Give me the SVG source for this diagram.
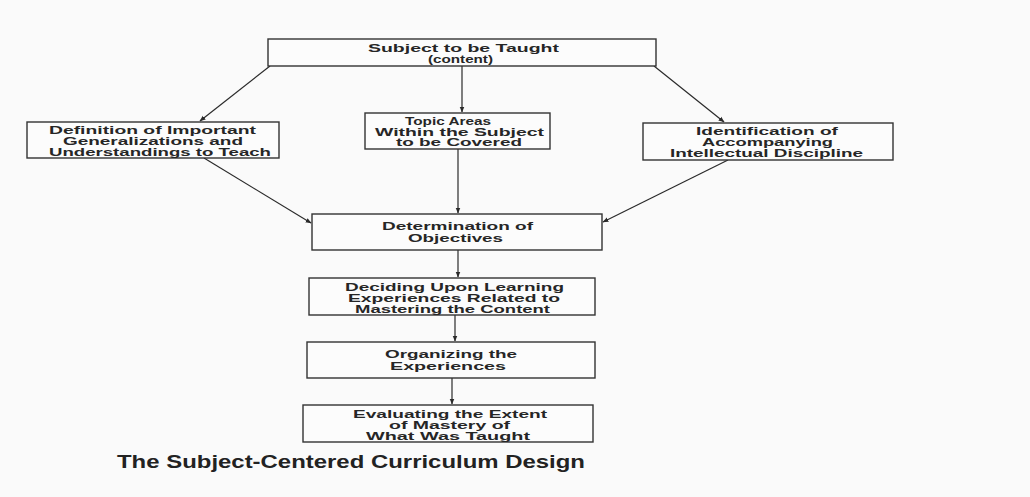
<svg xmlns="http://www.w3.org/2000/svg" width="1030" height="497" viewBox="0 0 1030 497">
<defs>
<marker id="ah" viewBox="0 0 10 10" refX="9" refY="5" markerWidth="6" markerHeight="6" orient="auto" markerUnits="userSpaceOnUse">
<path d="M0,1 L10,5 L0,9 z" fill="#2a2a2a"/>
</marker>
</defs>
<style>
.bx{fill:#fcfcfc;stroke:#333;stroke-width:1.4}
.t{font-family:"Liberation Sans",Arial,sans-serif;font-size:10px;font-weight:bold;fill:#262626}
.c{stroke:#2a2a2a;stroke-width:1.2;fill:none;marker-end:url(#ah)}
.title{font-family:"Liberation Sans",Arial,sans-serif;font-size:18px;font-weight:bold;fill:#222}
</style>
<rect width="1030" height="497" fill="#fafafa"/>
<g id="connectors">
<line class="c" x1="270" y1="66" x2="200" y2="121"/>
<line class="c" x1="462" y1="66" x2="462" y2="112"/>
<line class="c" x1="654" y1="66" x2="724" y2="122"/>
<line class="c" x1="204" y1="158" x2="311" y2="223"/>
<line class="c" x1="458" y1="149" x2="458" y2="213"/>
<line class="c" x1="728" y1="160" x2="603" y2="222"/>
<line class="c" x1="458" y1="250" x2="458" y2="277"/>
<line class="c" x1="455" y1="315" x2="455" y2="341"/>
<line class="c" x1="452" y1="378" x2="452" y2="404"/>
</g>
<g id="n-subject">
<rect class="bx" x="268" y="39" width="388" height="27"/>
<text class="t" x="368" y="52" textLength="191" lengthAdjust="spacingAndGlyphs">Subject to be Taught</text>
<text class="t" x="428" y="63" textLength="65" lengthAdjust="spacingAndGlyphs">(content)</text>
</g>
<g id="n-topic">
<rect class="bx" x="365" y="113" width="185" height="36"/>
<text class="t" x="405" y="125" textLength="86" lengthAdjust="spacingAndGlyphs">Topic Areas</text>
<text class="t" x="375" y="135.5" textLength="169" lengthAdjust="spacingAndGlyphs">Within the Subject</text>
<text class="t" x="396" y="146" textLength="126" lengthAdjust="spacingAndGlyphs">to be Covered</text>
</g>
<g id="n-definition">
<rect class="bx" x="27" y="122" width="252" height="36"/>
<text class="t" x="49" y="133.5" textLength="207" lengthAdjust="spacingAndGlyphs">Definition of Important</text>
<text class="t" x="63" y="144.5" textLength="180" lengthAdjust="spacingAndGlyphs">Generalizations and</text>
<text class="t" x="49" y="155.5" textLength="222" lengthAdjust="spacingAndGlyphs">Understandings to Teach</text>
</g>
<g id="n-identification">
<rect class="bx" x="643" y="123" width="250" height="37"/>
<text class="t" x="696" y="134.5" textLength="142" lengthAdjust="spacingAndGlyphs">Identification of</text>
<text class="t" x="702" y="145.5" textLength="131" lengthAdjust="spacingAndGlyphs">Accompanying</text>
<text class="t" x="670" y="156.5" textLength="193" lengthAdjust="spacingAndGlyphs">Intellectual Discipline</text>
</g>
<g id="n-determination">
<rect class="bx" x="312" y="214" width="290" height="36"/>
<text class="t" x="382" y="230" textLength="151" lengthAdjust="spacingAndGlyphs">Determination of</text>
<text class="t" x="408" y="242" textLength="95" lengthAdjust="spacingAndGlyphs">Objectives</text>
</g>
<g id="n-deciding">
<rect class="bx" x="309" y="278" width="286" height="37"/>
<text class="t" x="345" y="290.5" textLength="219" lengthAdjust="spacingAndGlyphs">Deciding Upon Learning</text>
<text class="t" x="348" y="301.5" textLength="212" lengthAdjust="spacingAndGlyphs">Experiences Related to</text>
<text class="t" x="355" y="312.5" textLength="195" lengthAdjust="spacingAndGlyphs">Mastering the Content</text>
</g>
<g id="n-organizing">
<rect class="bx" x="307" y="342" width="288" height="36"/>
<text class="t" x="385" y="358" textLength="132" lengthAdjust="spacingAndGlyphs">Organizing the</text>
<text class="t" x="390" y="369.5" textLength="116" lengthAdjust="spacingAndGlyphs">Experiences</text>
</g>
<g id="n-evaluating">
<rect class="bx" x="303" y="405" width="290" height="37"/>
<text class="t" x="353" y="417.5" textLength="194" lengthAdjust="spacingAndGlyphs">Evaluating the Extent</text>
<text class="t" x="389" y="428.5" textLength="121" lengthAdjust="spacingAndGlyphs">of Mastery of</text>
<text class="t" x="366" y="439.5" textLength="164" lengthAdjust="spacingAndGlyphs">What Was Taught</text>
</g>
<text class="title" x="117" y="468" textLength="468" lengthAdjust="spacingAndGlyphs">The Subject-Centered Curriculum Design</text>
</svg>
